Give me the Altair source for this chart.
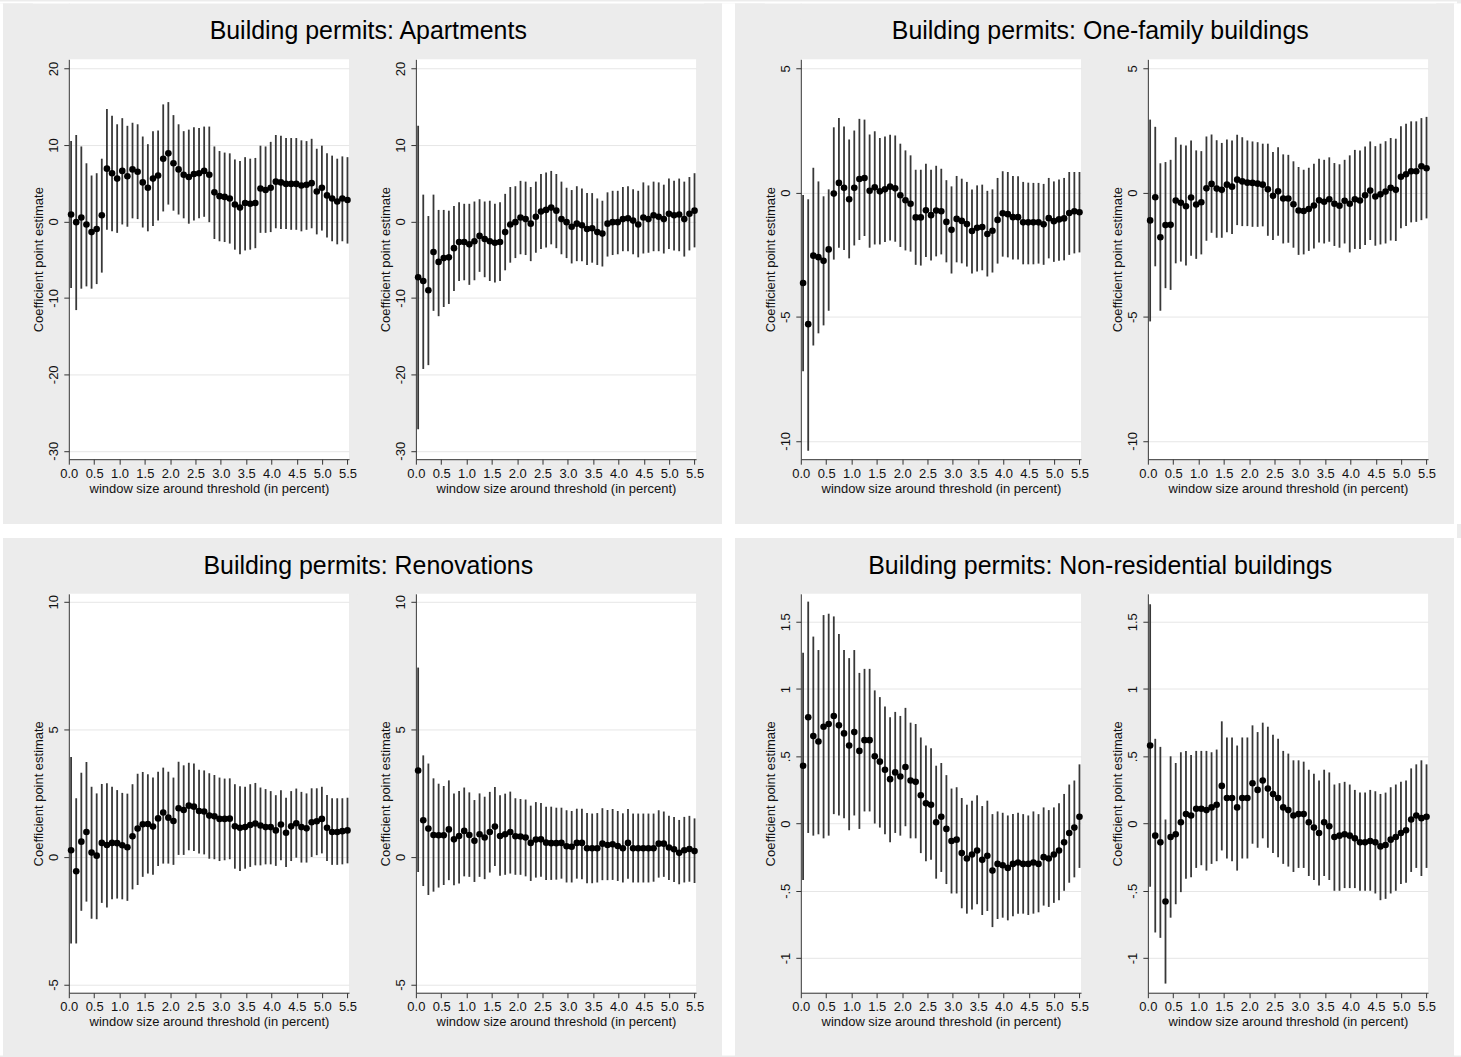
import altair as alt
import pandas as pd

FONT = "Liberation Sans"
PANEL_BG = "#ececec"

# window size around threshold (in percent) at which each coefficient is estimated
window = [0.045, 0.146, 0.247, 0.348, 0.449, 0.550, 0.651, 0.752, 0.853, 0.954,
          1.055, 1.156, 1.257, 1.358, 1.459, 1.560, 1.661, 1.762, 1.863, 1.964,
          2.065, 2.166, 2.267, 2.368, 2.469, 2.570, 2.671, 2.772, 2.873, 2.974,
          3.075, 3.176, 3.277, 3.378, 3.479, 3.580, 3.681, 3.782, 3.883, 3.984,
          4.085, 4.186, 4.287, 4.388, 4.489, 4.590, 4.691, 4.792, 4.893, 4.994,
          5.095, 5.196, 5.297, 5.398, 5.499]

# Apartments
apt_l_est = [0.9, -0.1, 0.5, -0.4, -1.4, -1.0, 0.8, 6.9, 6.3, 5.6, 6.6, 5.9, 6.8, 6.5, 5.1, 4.4, 5.6, 6.0, 8.2, 8.9,
             7.6, 6.8, 6.1, 5.8, 6.2, 6.3, 6.6, 6.1, 3.8, 3.3, 3.2, 3.0, 2.2, 1.8, 2.4, 2.3, 2.4, 4.3, 4.1, 4.4,
             5.2, 5.1, 4.9, 4.9, 4.9, 4.7, 4.8, 5.0, 3.9, 4.4, 3.4, 3.0, 2.6, 3.0, 2.8]
apt_l_hi = [10.5, 11.3, 9.8, 7.6, 6.0, 6.3, 8.2, 14.7, 13.8, 12.7, 13.5, 12.5, 12.9, 12.7, 11.1, 10.1, 11.8, 11.9, 15.3, 15.6,
            13.9, 12.7, 11.8, 12.0, 12.3, 12.2, 12.4, 12.4, 9.8, 9.2, 9.0, 8.9, 8.1, 7.9, 8.4, 8.2, 8.3, 9.9, 9.8, 10.4,
            11.3, 11.2, 10.9, 10.9, 10.9, 10.6, 10.5, 10.8, 9.5, 9.9, 8.9, 8.6, 8.2, 8.5, 8.4]
apt_l_lo = [-8.7, -11.6, -8.8, -8.5, -8.8, -8.2, -6.7, -1.1, -1.3, -1.5, -0.4, -0.7, 0.4, 0.3, -0.8, -1.3, -0.6, 0.1, 1.3, 2.2,
            1.4, 0.9, 0.4, -0.3, 0.1, 0.4, 0.6, -0.1, -2.3, -2.6, -2.7, -2.9, -3.7, -4.3, -3.8, -3.7, -3.5, -1.5, -1.5, -1.4,
            -0.9, -1.0, -1.0, -1.1, -1.1, -1.3, -1.1, -0.9, -1.7, -1.2, -2.1, -2.6, -3.0, -2.6, -2.9]

apt_r_est = [-7.3, -7.8, -9.0, -4.0, -5.3, -4.8, -4.7, -3.5, -2.7, -2.7, -3.0, -2.6, -1.9, -2.3, -2.6, -2.8, -2.7, -1.4, -0.4, -0.1,
             0.5, 0.3, -0.3, 0.6, 1.3, 1.5, 1.8, 1.4, 0.3, -0.1, -0.7, -0.3, -0.5, -1.0, -0.9, -1.4, -1.6, -0.3, -0.1, -0.1,
             0.3, 0.4, 0.1, -0.4, 0.5, 0.3, 0.8, 0.6, 0.3, 1.0, 0.8, 0.9, 0.3, 1.0, 1.4]
apt_r_hi = [12.5, 3.5, 0.7, 3.5, 1.5, 1.5, 1.4, 2.0, 2.5, 2.3, 2.3, 2.6, 2.9, 2.6, 2.7, 2.3, 2.5, 3.6, 4.5, 4.6,
            5.3, 5.2, 4.5, 5.2, 6.2, 6.4, 6.6, 6.2, 5.2, 4.4, 4.1, 4.6, 4.3, 3.7, 3.7, 3.0, 2.7, 3.8, 4.0, 4.0,
            4.5, 4.6, 4.2, 4.0, 5.1, 4.7, 5.2, 5.1, 4.8, 5.6, 5.3, 5.6, 5.2, 5.8, 6.3]
apt_r_lo = [-27.2, -19.3, -18.8, -11.7, -12.4, -11.2, -10.8, -9.1, -7.8, -7.7, -8.3, -7.7, -6.6, -7.3, -7.8, -8.0, -7.8, -6.4, -5.4, -4.8,
            -4.3, -4.4, -5.2, -4.1, -3.6, -3.4, -3.0, -3.5, -4.3, -4.8, -5.5, -5.2, -5.2, -5.7, -5.4, -5.7, -5.9, -4.6, -4.4, -4.3,
            -3.9, -3.9, -4.3, -4.7, -4.2, -4.1, -3.9, -3.9, -4.2, -3.6, -3.8, -3.9, -4.6, -3.8, -3.4]

# One-family buildings
one_l_est = [-3.64, -5.3, -2.54, -2.6, -2.75, -2.29, -0.04, 0.39, 0.19, -0.27, 0.19, 0.55, 0.59, 0.07, 0.21, 0.05, 0.13, 0.24, 0.17, -0.11,
             -0.31, -0.45, -1.0, -1.0, -0.71, -0.91, -0.72, -0.75, -1.18, -1.5, -1.06, -1.14, -1.27, -1.55, -1.42, -1.39, -1.67, -1.54, -1.1, -0.83,
             -0.87, -0.99, -0.99, -1.2, -1.2, -1.2, -1.2, -1.28, -1.03, -1.15, -1.08, -1.04, -0.82, -0.75, -0.79]
one_l_hi = [-0.1, -0.27, 1.0, 0.45, -0.15, 0.13, 2.63, 3.0, 2.66, 2.14, 2.5, 2.97, 2.94, 2.34, 2.47, 2.2, 2.26, 2.33, 2.3, 1.97,
            1.7, 1.5, 0.92, 0.92, 1.16, 0.92, 1.08, 0.96, 0.5, 0.25, 0.67, 0.56, 0.43, 0.12, 0.29, 0.32, 0.07, 0.13, 0.59, 0.86,
            0.83, 0.67, 0.66, 0.43, 0.4, 0.39, 0.39, 0.35, 0.59, 0.45, 0.53, 0.59, 0.83, 0.83, 0.83]
one_l_lo = [-7.2, -10.4, -6.16, -5.67, -5.35, -4.76, -2.7, -2.22, -2.31, -2.65, -2.13, -1.91, -1.75, -2.22, -2.09, -2.09, -1.99, -1.93, -1.98, -2.19,
            -2.33, -2.38, -2.91, -2.94, -2.59, -2.74, -2.57, -2.49, -2.81, -3.26, -2.81, -2.85, -2.98, -3.26, -3.18, -3.13, -3.38, -3.22, -2.86, -2.58,
            -2.61, -2.7, -2.7, -2.89, -2.89, -2.89, -2.86, -2.91, -2.65, -2.79, -2.75, -2.73, -2.51, -2.45, -2.41]

one_r_est = [-1.12, -0.19, -1.8, -1.31, -1.3, -0.32, -0.41, -0.55, -0.2, -0.48, -0.39, 0.17, 0.35, 0.16, 0.11, 0.32, 0.24, 0.52, 0.45, 0.4,
             0.39, 0.36, 0.32, 0.13, -0.13, 0.05, -0.24, -0.24, -0.47, -0.72, -0.74, -0.66, -0.52, -0.31, -0.37, -0.27, -0.45, -0.53, -0.33, -0.45,
             -0.27, -0.32, -0.11, 0.08, -0.16, -0.07, 0.04, 0.19, 0.11, 0.64, 0.74, 0.86, 0.86, 1.06, 0.98]
one_r_hi = [2.94, 2.65, 1.18, 1.23, 1.32, 2.23, 1.93, 1.9, 2.1, 1.7, 1.67, 2.26, 2.34, 2.11, 2.0, 2.14, 2.1, 2.33, 2.23, 2.1,
            2.06, 2.03, 1.97, 1.97, 1.63, 1.83, 1.54, 1.52, 1.26, 1.03, 0.92, 1.0, 1.16, 1.36, 1.32, 1.42, 1.19, 1.14, 1.32, 1.5,
            1.72, 1.7, 1.86, 2.06, 1.87, 1.97, 2.07, 2.2, 2.17, 2.67, 2.77, 2.87, 2.87, 3.0, 3.05]
one_r_lo = [-5.19, -2.97, -4.76, -3.85, -3.92, -2.85, -2.78, -2.94, -2.54, -2.67, -2.49, -1.94, -1.62, -1.82, -1.82, -1.6, -1.67, -1.31, -1.35, -1.35,
            -1.38, -1.38, -1.36, -1.74, -1.91, -1.74, -2.05, -2.02, -2.22, -2.51, -2.49, -2.35, -2.25, -2.01, -2.05, -1.98, -2.15, -2.22, -2.05, -2.41,
            -2.27, -2.27, -2.11, -1.91, -2.14, -2.09, -2.05, -1.93, -1.95, -1.44, -1.35, -1.2, -1.18, -1.11, -1.04]

# Renovations
ren_l_est = [0.26, -0.56, 0.6, 0.98, 0.17, 0.05, 0.55, 0.47, 0.55, 0.54, 0.46, 0.38, 0.81, 1.11, 1.28, 1.29, 1.19, 1.51, 1.74, 1.54,
             1.41, 1.91, 1.84, 2.01, 1.97, 1.8, 1.78, 1.62, 1.59, 1.49, 1.49, 1.5, 1.2, 1.14, 1.17, 1.25, 1.31, 1.23, 1.17, 1.17,
             1.04, 1.27, 0.95, 1.2, 1.32, 1.17, 1.12, 1.36, 1.4, 1.49, 1.14, 0.98, 0.98, 1.01, 1.04]
ren_l_hi = [3.92, 2.3, 3.3, 3.72, 2.75, 2.49, 2.86, 2.89, 2.75, 2.62, 2.51, 2.48, 2.85, 3.26, 3.33, 3.24, 3.11, 3.34, 3.5, 3.34,
            3.11, 3.73, 3.59, 3.69, 3.66, 3.42, 3.39, 3.28, 3.21, 3.11, 3.07, 3.08, 2.85, 2.77, 2.75, 2.85, 2.9, 2.72, 2.66, 2.58,
            2.42, 2.61, 2.32, 2.58, 2.68, 2.55, 2.49, 2.69, 2.69, 2.75, 2.43, 2.3, 2.3, 2.3, 2.32]
ren_l_lo = [-3.39, -3.39, -2.11, -1.75, -2.42, -2.44, -1.8, -1.98, -1.66, -1.63, -1.66, -1.72, -1.27, -1.1, -0.78, -0.65, -0.7, -0.35, -0.26, -0.26,
            -0.31, 0.08, 0.08, 0.26, 0.23, 0.14, 0.1, -0.07, -0.09, -0.16, -0.13, -0.09, -0.46, -0.55, -0.46, -0.39, -0.33, -0.33, -0.29, -0.29,
            -0.35, -0.13, -0.39, -0.16, -0.03, -0.22, -0.22, 0.0, 0.07, 0.14, -0.16, -0.31, -0.31, -0.29, -0.25]

ren_r_est = [3.39, 1.44, 1.11, 0.86, 0.85, 0.85, 1.08, 0.69, 0.82, 1.02, 0.86, 0.63, 0.89, 0.76, 0.98, 1.19, 0.82, 0.89, 0.98, 0.81,
             0.8, 0.76, 0.55, 0.68, 0.69, 0.56, 0.54, 0.54, 0.55, 0.42, 0.4, 0.55, 0.55, 0.34, 0.34, 0.34, 0.52, 0.47, 0.5, 0.43,
             0.34, 0.55, 0.34, 0.34, 0.34, 0.34, 0.34, 0.52, 0.52, 0.37, 0.3, 0.16, 0.26, 0.31, 0.23]
ren_r_hi = [7.42, 3.98, 3.66, 3.08, 2.87, 2.78, 3.0, 2.49, 2.58, 2.72, 2.53, 2.23, 2.49, 2.36, 2.55, 2.74, 2.42, 2.48, 2.56, 2.3,
            2.27, 2.25, 2.01, 2.15, 2.11, 1.97, 1.97, 1.93, 1.93, 1.83, 1.8, 1.89, 1.89, 1.72, 1.7, 1.72, 1.91, 1.84, 1.88, 1.8,
            1.71, 1.88, 1.7, 1.7, 1.7, 1.7, 1.7, 1.83, 1.78, 1.61, 1.57, 1.45, 1.57, 1.61, 1.51]
ren_r_lo = [-0.59, -1.14, -1.49, -1.36, -1.2, -1.1, -0.91, -1.11, -1.04, -0.76, -0.78, -0.98, -0.78, -0.87, -0.61, -0.35, -0.74, -0.7, -0.65, -0.7,
            -0.7, -0.76, -0.94, -0.81, -0.78, -0.9, -0.9, -0.89, -0.85, -1.0, -1.0, -0.85, -0.87, -1.03, -1.03, -1.0, -0.91, -0.91, -0.9, -0.94,
            -1.0, -0.85, -1.0, -1.0, -1.0, -1.0, -0.97, -0.81, -0.78, -0.9, -0.98, -1.07, -1.0, -0.97, -1.02]

# Non-residential buildings
non_l_est = [0.43, 0.79, 0.65, 0.61, 0.72, 0.74, 0.8, 0.73, 0.67, 0.58, 0.68, 0.54, 0.62, 0.62, 0.5, 0.46, 0.4, 0.33, 0.38, 0.35,
             0.42, 0.32, 0.31, 0.21, 0.15, 0.14, 0.01, 0.05, -0.04, -0.13, -0.12, -0.22, -0.26, -0.23, -0.2, -0.27, -0.24, -0.35, -0.3, -0.31,
             -0.33, -0.3, -0.29, -0.3, -0.3, -0.29, -0.3, -0.25, -0.26, -0.23, -0.2, -0.14, -0.07, -0.03, 0.05]
non_l_hi = [1.27, 1.65, 1.39, 1.29, 1.55, 1.56, 1.54, 1.41, 1.29, 1.23, 1.29, 1.12, 1.15, 1.15, 0.99, 0.94, 0.87, 0.79, 0.83, 0.8,
            0.86, 0.75, 0.74, 0.64, 0.58, 0.56, 0.43, 0.45, 0.36, 0.26, 0.27, 0.19, 0.14, 0.17, 0.21, 0.13, 0.17, 0.07, 0.09, 0.08,
            0.06, 0.07, 0.08, 0.07, 0.06, 0.09, 0.07, 0.12, 0.1, 0.12, 0.15, 0.22, 0.29, 0.32, 0.44]
non_l_lo = [-0.42, -0.07, -0.09, -0.08, -0.11, -0.09, 0.07, 0.06, 0.04, -0.05, 0.06, -0.04, 0.09, 0.09, 0.0, -0.03, -0.08, -0.14, -0.07, -0.09,
            -0.02, -0.11, -0.11, -0.22, -0.28, -0.27, -0.41, -0.36, -0.45, -0.52, -0.52, -0.63, -0.67, -0.64, -0.6, -0.68, -0.65, -0.77, -0.71, -0.7,
            -0.72, -0.69, -0.67, -0.67, -0.68, -0.67, -0.66, -0.61, -0.62, -0.59, -0.57, -0.5, -0.44, -0.4, -0.33]

non_r_est = [0.58, -0.09, -0.14, -0.58, -0.1, -0.08, 0.01, 0.07, 0.06, 0.11, 0.11, 0.1, 0.12, 0.14, 0.28, 0.19, 0.19, 0.12, 0.19, 0.19,
             0.3, 0.25, 0.32, 0.26, 0.22, 0.19, 0.12, 0.1, 0.06, 0.07, 0.07, 0.01, -0.03, -0.07, 0.01, -0.02, -0.1, -0.09, -0.08, -0.09,
             -0.11, -0.14, -0.14, -0.13, -0.14, -0.17, -0.16, -0.12, -0.1, -0.07, -0.05, 0.03, 0.06, 0.04, 0.05]
non_r_hi = [1.63, 0.63, 0.57, 0.03, 0.5, 0.45, 0.53, 0.54, 0.51, 0.54, 0.54, 0.54, 0.53, 0.55, 0.76, 0.64, 0.64, 0.58, 0.64, 0.64,
            0.73, 0.68, 0.75, 0.72, 0.66, 0.63, 0.54, 0.52, 0.47, 0.47, 0.46, 0.4, 0.37, 0.32, 0.4, 0.38, 0.29, 0.3, 0.31, 0.29,
            0.25, 0.23, 0.23, 0.25, 0.24, 0.22, 0.23, 0.27, 0.29, 0.31, 0.32, 0.41, 0.44, 0.47, 0.44]
non_r_lo = [-0.47, -0.81, -0.85, -1.19, -0.7, -0.6, -0.51, -0.41, -0.4, -0.33, -0.31, -0.35, -0.3, -0.28, -0.2, -0.26, -0.28, -0.35, -0.26, -0.26,
            -0.15, -0.18, -0.11, -0.18, -0.22, -0.25, -0.3, -0.32, -0.36, -0.33, -0.33, -0.39, -0.42, -0.46, -0.39, -0.42, -0.5, -0.5, -0.48, -0.48,
            -0.48, -0.5, -0.5, -0.5, -0.52, -0.57, -0.56, -0.52, -0.5, -0.45, -0.44, -0.36, -0.33, -0.39, -0.33]

x_ticks = [0.0, 0.5, 1.0, 1.5, 2.0, 2.5, 3.0, 3.5, 4.0, 4.5, 5.0, 5.5]
X_TITLE = "window size around threshold (in percent)"
Y_TITLE = "Coefficient point estimate"


def panel(est, lo, hi, domain, ticks, height):
    df = pd.DataFrame({"window": window, "est": est, "lo": lo, "hi": hi})
    x_axis = alt.Axis(values=x_ticks, format=".1f", title=X_TITLE, grid=False,
                      labelOverlap=False, labelFlush=False, titlePadding=2)
    y_axis = alt.Axis(values=ticks, title=Y_TITLE, grid=True, labelAngle=270,
                      labelAlign="center", labelBaseline="bottom", labelFlush=False,
                      labelOverlap=False, titlePadding=2,
                      labelExpr="replace('' + datum.value, '0.', '.')")
    xs = alt.Scale(domain=[0, 5.53], nice=False, zero=False)
    ys = alt.Scale(domain=domain, nice=False, zero=False)
    base = alt.Chart(df)
    bars = base.mark_rule(color="#383838", strokeWidth=1.8).encode(
        x=alt.X("window:Q", scale=xs, axis=x_axis),
        y=alt.Y("lo:Q", scale=ys, axis=y_axis),
        y2="hi:Q",
    )
    dots = base.mark_circle(color="black", size=44, opacity=1).encode(
        x=alt.X("window:Q", scale=xs, axis=x_axis),
        y=alt.Y("est:Q", scale=ys, axis=y_axis),
    )
    return alt.layer(bars, dots).properties(
        width=281, height=height,
        view=alt.ViewBackground(fill="white", strokeWidth=0),
    )


def spacer(w, h, fill):
    return alt.Chart(pd.DataFrame({"k": [0]})).mark_point(opacity=0, size=0).encode(
        x=alt.value(w / 2), y=alt.value(h / 2)
    ).properties(width=w, height=h, view=alt.ViewBackground(fill=fill, strokeWidth=0))


def group(title, left, right):
    g = alt.hconcat(left, spacer(23, 1, PANEL_BG), right, spacing=0).properties(
        title=alt.TitleParams(title, fontSize=25, font=FONT, fontWeight="normal",
                              color="black", anchor="middle", offset=15)
    )
    return alt.vconcat(spacer(1, 16, PANEL_BG), g, spacing=0)


def row(ga, gb, h):
    return alt.hconcat(
        spacer(3, h, "white"), spacer(30, 1, PANEL_BG), ga, spacer(18, 1, PANEL_BG),
        spacer(13, h, "white"), spacer(30, 1, PANEL_BG), gb, spacer(18, 1, PANEL_BG),
        spacer(7, h, "white"), spacing=0,
    )


g1 = [-31.1, 21.2]
t1 = [-30, -20, -10, 0, 10, 20]
g2 = [-10.74, 5.37]
t2 = [-10, -5, 0, 5]
g3 = [-5.32, 10.31]
t3 = [-5, 0, 5, 10]
g4 = [-1.258, 1.708]
t4 = [-1, -0.5, 0, 0.5, 1, 1.5]

row1 = row(
    group("Building permits: Apartments",
          panel(apt_l_est, apt_l_lo, apt_l_hi, g1, t1, 401),
          panel(apt_r_est, apt_r_lo, apt_r_hi, g1, t1, 401)),
    group("Building permits: One-family buildings",
          panel(one_l_est, one_l_lo, one_l_hi, g2, t2, 401),
          panel(one_r_est, one_r_lo, one_r_hi, g2, t2, 401)),
    522,
)
row2 = row(
    group("Building permits: Renovations",
          panel(ren_l_est, ren_l_lo, ren_l_hi, g3, t3, 400),
          panel(ren_r_est, ren_r_lo, ren_r_hi, g3, t3, 400)),
    group("Building permits: Non-residential buildings",
          panel(non_l_est, non_l_lo, non_l_hi, g4, t4, 400),
          panel(non_r_est, non_r_lo, non_r_hi, g4, t4, 400)),
    519,
)

chart = alt.vconcat(
    spacer(1461, 2, "white"), row1, spacer(1461, 14, "white"), row2, spacing=0
).properties(
    padding=0, background=PANEL_BG,
).configure_axis(
    labelFont=FONT, titleFont=FONT, labelFontSize=13, titleFontSize=13,
    labelColor="#111111", titleColor="#111111", titleFontWeight="normal",
    domainColor="#333333", tickColor="#333333", gridColor="#e6e6e6",
    tickSize=5, labelPadding=3, domainWidth=1, tickWidth=1, gridWidth=1,
).configure_view(strokeWidth=0)

chart.save("out.html", embed_options={"renderer": "svg", "actions": False})
